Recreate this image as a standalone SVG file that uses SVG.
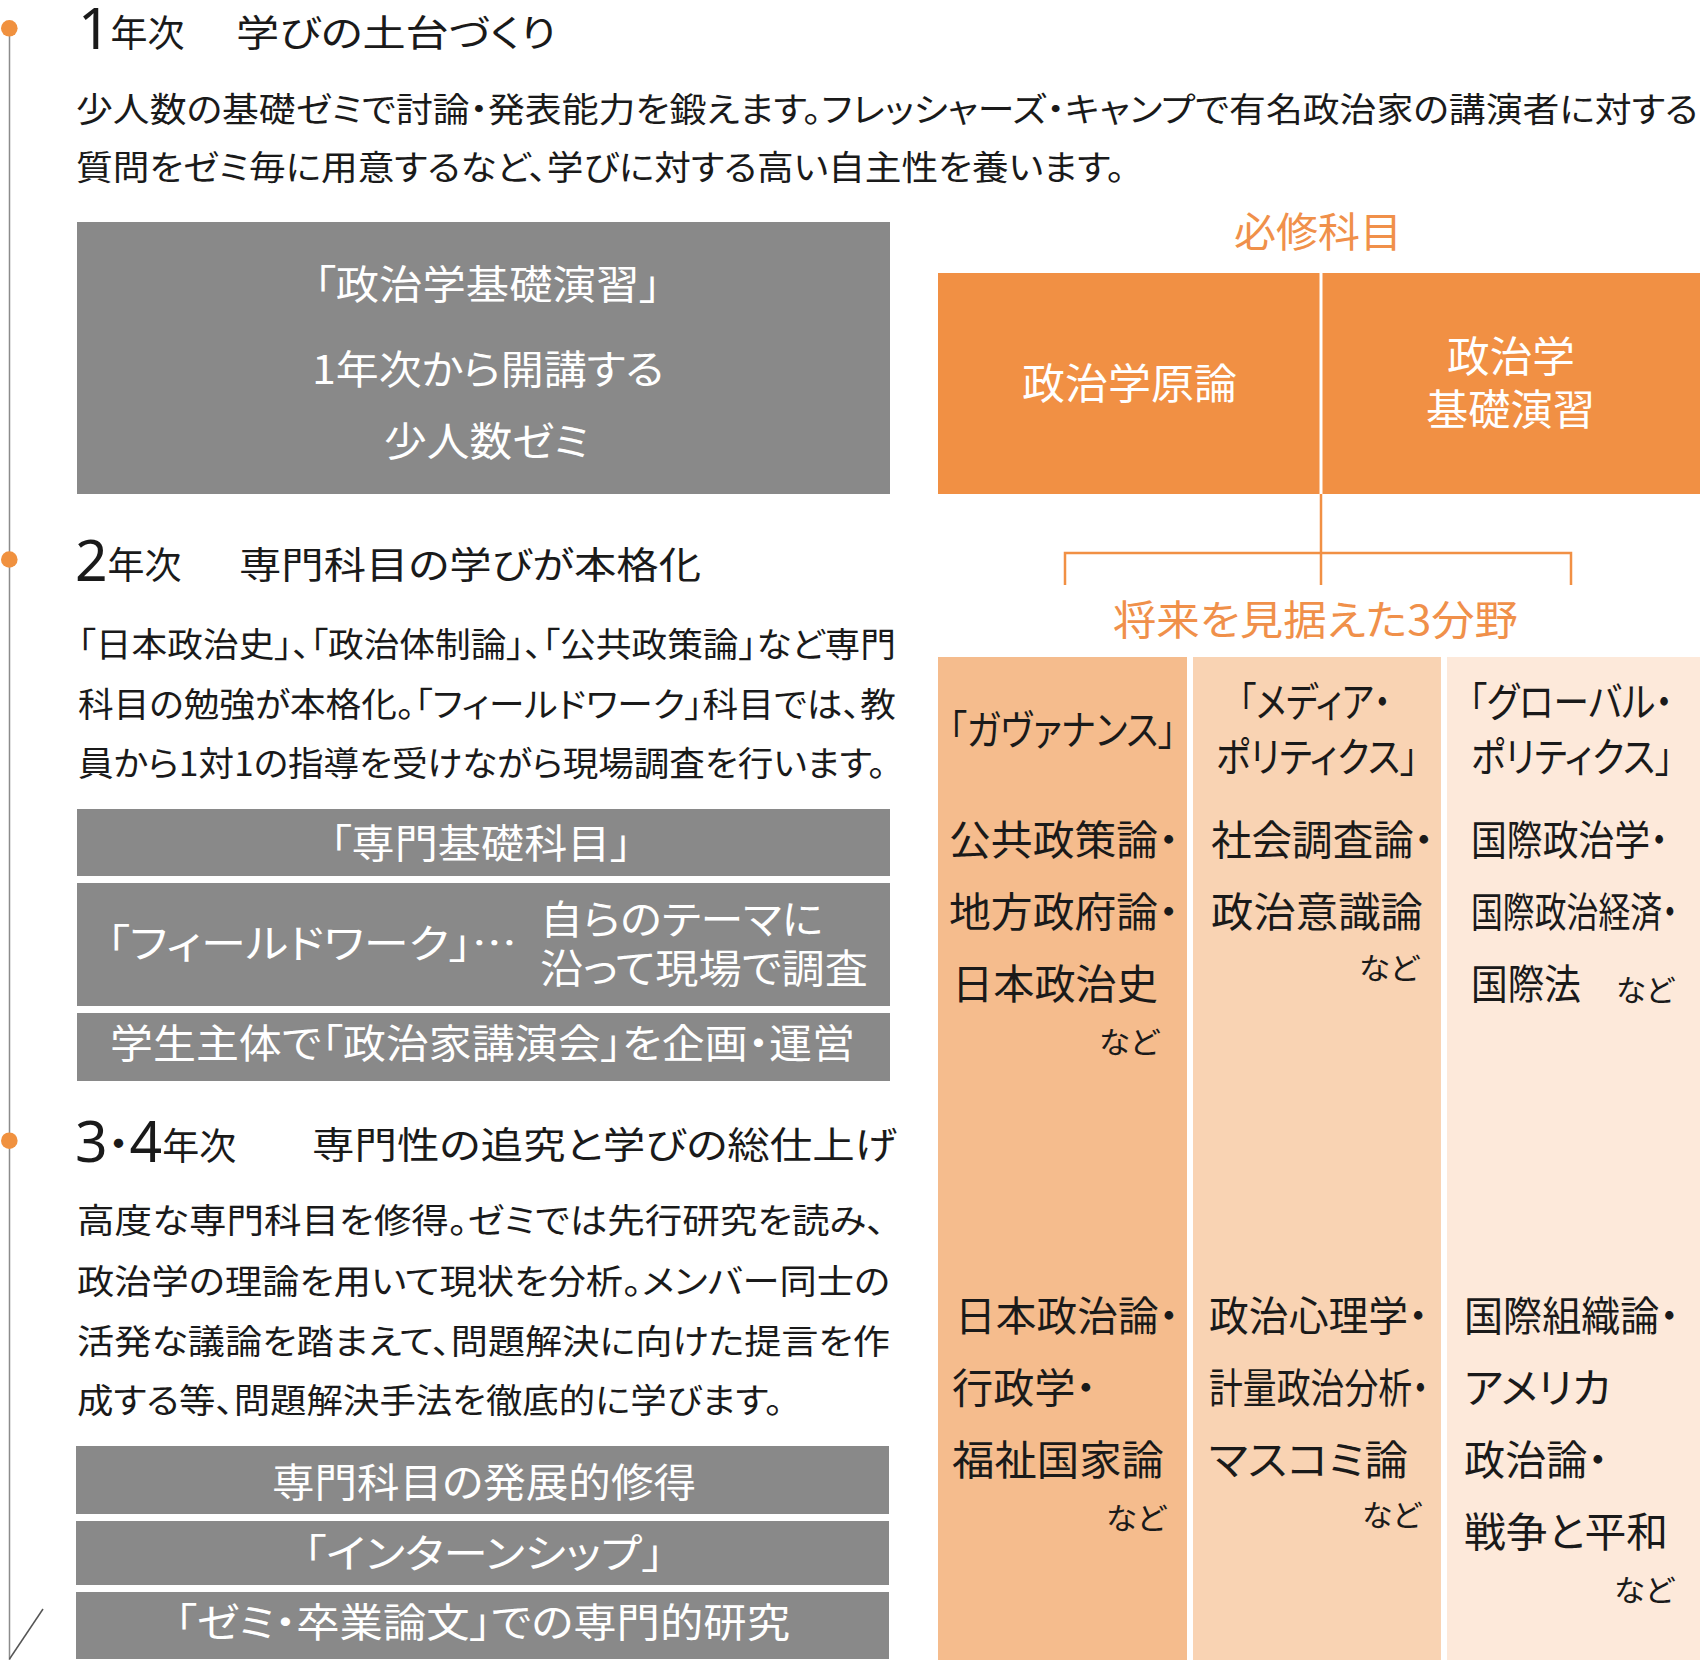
<svg xmlns="http://www.w3.org/2000/svg" width="1700" height="1663" viewBox="0 0 1700 1663">
<style>
text{font-family:"Noto Sans CJK JP","Noto Sans",sans-serif;font-feature-settings:"palt" 1;}
.t{fill:#1a1a1a;}
.w{fill:#ffffff;}
.o{fill:#f0904a;}
.h{font-size:37px;}
.num{font-family:"Noto Sans","Noto Sans CJK JP",sans-serif;font-weight:400;font-size:57px;}
.p{font-size:34px;}
.b{font-size:40px;}
.c{font-size:41px;}
.n{font-size:30px;}
.gray{fill:#898989;}
.conn{fill:none;stroke:#f19044;stroke-width:2.5;}
</style>
<rect x="0" y="0" width="1700" height="1663" fill="#ffffff"/>

<g id="timeline">
<line x1="9.5" y1="28" x2="9.5" y2="1660" stroke="#8c8c8c" stroke-width="1.5"/>
<line x1="9.5" y1="1659" x2="43" y2="1609" stroke="#555555" stroke-width="1.5"/>
<circle cx="9.3" cy="28.3" r="8.3" fill="#f0913f"/>
<circle cx="9.3" cy="559.5" r="8.3" fill="#f0913f"/>
<circle cx="9.3" cy="1140.7" r="8.3" fill="#f0913f"/>
</g>

<g id="year1">
<text class="t" x="78" y="49"><tspan class="num">1</tspan><tspan class="h" y="47">年次</tspan></text>
<text class="t h" x="236" y="47" textLength="320" lengthAdjust="spacingAndGlyphs">学びの土台づくり</text>
<text class="t p" x="76" y="122" textLength="1622" lengthAdjust="spacingAndGlyphs">少人数の基礎ゼミで討論・発表能力を鍛えます。フレッシャーズ・キャンプで有名政治家の講演者に対する</text>
<text class="t p" x="76" y="180" textLength="1049" lengthAdjust="spacingAndGlyphs">質問をゼミ毎に用意するなど、学びに対する高い自主性を養います。</text>
</g>

<g id="box-y1">
<rect class="gray" x="77" y="222" width="813" height="272"/>
<text class="w b" x="314" y="299" textLength="347" lengthAdjust="spacingAndGlyphs">「政治学基礎演習」</text>
<text class="w b" x="312" y="384" textLength="352" lengthAdjust="spacingAndGlyphs">1年次から開講する</text>
<text class="w b" x="384" y="456" textLength="205" lengthAdjust="spacingAndGlyphs">少人数ゼミ</text>
</g>

<g id="year2">
<text class="t" x="75" y="581"><tspan class="num">2</tspan><tspan class="h" y="579">年次</tspan></text>
<text class="t h" x="239" y="579" textLength="462" lengthAdjust="spacingAndGlyphs">専門科目の学びが本格化</text>
<text class="t p" x="78" y="657" textLength="818" lengthAdjust="spacingAndGlyphs">「日本政治史」、「政治体制論」、「公共政策論」など専門</text>
<text class="t p" x="78" y="717" textLength="818" lengthAdjust="spacingAndGlyphs">科目の勉強が本格化。「フィールドワーク」科目では、教</text>
<text class="t p" x="78" y="776" textLength="808" lengthAdjust="spacingAndGlyphs">員から1対1の指導を受けながら現場調査を行います。</text>
</g>

<g id="box-y2">
<rect class="gray" x="77" y="809" width="813" height="67"/>
<rect class="gray" x="77" y="883" width="813" height="123"/>
<rect class="gray" x="77" y="1013" width="813" height="68"/>
<text class="w b" x="330" y="858" textLength="302" lengthAdjust="spacingAndGlyphs">「専門基礎科目」</text>
<text class="w b" x="107" y="958" textLength="410" lengthAdjust="spacingAndGlyphs">「フィールドワーク」…</text>
<text class="w b" x="540" y="934" textLength="283" lengthAdjust="spacingAndGlyphs">自らのテーマに</text>
<text class="w b" x="540" y="983" textLength="328" lengthAdjust="spacingAndGlyphs">沿って現場で調査</text>
<text class="w b" x="110" y="1058" textLength="745" lengthAdjust="spacingAndGlyphs">学生主体で「政治家講演会」を企画・運営</text>
</g>

<g id="year34">
<text class="t" x="75" y="1162"><tspan class="num">3</tspan><tspan font-size="44" dy="-2">・</tspan><tspan class="num" dy="2">4</tspan><tspan class="h" dy="-2">年次</tspan></text>
<text class="t h" x="312" y="1159" textLength="585" lengthAdjust="spacingAndGlyphs">専門性の追究と学びの総仕上げ</text>
<text class="t p" x="77" y="1233" textLength="808" lengthAdjust="spacingAndGlyphs">高度な専門科目を修得。ゼミでは先行研究を読み、</text>
<text class="t p" x="77" y="1294" textLength="813" lengthAdjust="spacingAndGlyphs">政治学の理論を用いて現状を分析。メンバー同士の</text>
<text class="t p" x="77" y="1354" textLength="813" lengthAdjust="spacingAndGlyphs">活発な議論を踏まえて、問題解決に向けた提言を作</text>
<text class="t p" x="77" y="1413" textLength="706" lengthAdjust="spacingAndGlyphs">成する等、問題解決手法を徹底的に学びます。</text>
</g>

<g id="box-y34">
<rect class="gray" x="76" y="1446" width="813" height="68"/>
<rect class="gray" x="76" y="1521" width="813" height="64"/>
<rect class="gray" x="76" y="1592" width="813" height="67"/>
<text class="w b" x="272" y="1497" textLength="424" lengthAdjust="spacingAndGlyphs">専門科目の発展的修得</text>
<text class="w b" x="304" y="1568" textLength="360" lengthAdjust="spacingAndGlyphs">「インターンシップ」</text>
<text class="w b" x="175" y="1637" textLength="615" lengthAdjust="spacingAndGlyphs">「ゼミ・卒業論文」での専門的研究</text>
</g>

<g id="required">
<text class="o c" x="1234" y="247" textLength="168" lengthAdjust="spacingAndGlyphs">必修科目</text>
<rect x="938" y="273" width="762" height="221" fill="#f19044"/>
<line x1="1321" y1="273" x2="1321" y2="494" stroke="#ffffff" stroke-width="3"/>
<text class="w" font-size="42" x="1022" y="399" textLength="215" lengthAdjust="spacingAndGlyphs">政治学原論</text>
<text class="w" font-size="42" x="1447" y="372" textLength="128" lengthAdjust="spacingAndGlyphs">政治学</text>
<text class="w" font-size="42" x="1426" y="425" textLength="169" lengthAdjust="spacingAndGlyphs">基礎演習</text>
</g>

<g id="connectors">
<path class="conn" d="M1321 494 V585 M1065 585 V553 H1571 V585"/>
</g>

<g id="fields-title">
<text class="o c" x="1113" y="635" textLength="405" lengthAdjust="spacingAndGlyphs">将来を見据えた3分野</text>
</g>

<g id="col-governance">
<rect x="938" y="657" width="249" height="1003" fill="#f5bc8d"/>
<text class="t c" x="949" y="745" textLength="227" lengthAdjust="spacingAndGlyphs">「ガヴァナンス」</text>
<text class="t c" x="949" y="855" textLength="230" lengthAdjust="spacingAndGlyphs">公共政策論・</text>
<text class="t c" x="949" y="927" textLength="230" lengthAdjust="spacingAndGlyphs">地方政府論・</text>
<text class="t c" x="952" y="999" textLength="206" lengthAdjust="spacingAndGlyphs">日本政治史</text>
<text class="t n" x="1099" y="1053" textLength="60" lengthAdjust="spacingAndGlyphs">など</text>
<text class="t c" x="955" y="1331" textLength="224" lengthAdjust="spacingAndGlyphs">日本政治論・</text>
<text class="t c" x="952" y="1403" textLength="144" lengthAdjust="spacingAndGlyphs">行政学・</text>
<text class="t c" x="952" y="1475" textLength="212" lengthAdjust="spacingAndGlyphs">福祉国家論</text>
<text class="t n" x="1106" y="1529" textLength="60" lengthAdjust="spacingAndGlyphs">など</text>
</g>

<g id="col-media">
<rect x="1193" y="657" width="248" height="1003" fill="#f9d3b3"/>
<text class="t c" x="1239" y="717" textLength="152" lengthAdjust="spacingAndGlyphs">「メディア・</text>
<text class="t c" x="1216" y="772" textLength="202" lengthAdjust="spacingAndGlyphs">ポリティクス」</text>
<text class="t c" x="1211" y="855" textLength="223" lengthAdjust="spacingAndGlyphs">社会調査論・</text>
<text class="t c" x="1211" y="927" textLength="212" lengthAdjust="spacingAndGlyphs">政治意識論</text>
<text class="t n" x="1359" y="979" textLength="60" lengthAdjust="spacingAndGlyphs">など</text>
<text class="t c" x="1209" y="1331" textLength="219" lengthAdjust="spacingAndGlyphs">政治心理学・</text>
<text class="t c" x="1209" y="1403" textLength="220" lengthAdjust="spacingAndGlyphs">計量政治分析・</text>
<text class="t c" x="1209" y="1475" textLength="199" lengthAdjust="spacingAndGlyphs">マスコミ論</text>
<text class="t n" x="1362" y="1526" textLength="59" lengthAdjust="spacingAndGlyphs">など</text>
</g>

<g id="col-global">
<rect x="1447" y="657" width="253" height="1003" fill="#fde9da"/>
<text class="t c" x="1469" y="717" textLength="204" lengthAdjust="spacingAndGlyphs">「グローバル・</text>
<text class="t c" x="1471" y="772" textLength="202" lengthAdjust="spacingAndGlyphs">ポリティクス」</text>
<text class="t c" x="1471" y="855" textLength="197" lengthAdjust="spacingAndGlyphs">国際政治学・</text>
<text class="t c" x="1471" y="927" textLength="207" lengthAdjust="spacingAndGlyphs">国際政治経済・</text>
<text class="t c" x="1471" y="999" textLength="110" lengthAdjust="spacingAndGlyphs">国際法</text>
<text class="t n" x="1616" y="1001" textLength="58" lengthAdjust="spacingAndGlyphs">など</text>
<text class="t c" x="1464" y="1331" textLength="215" lengthAdjust="spacingAndGlyphs">国際組織論・</text>
<text class="t c" x="1464" y="1403" textLength="147" lengthAdjust="spacingAndGlyphs">アメリカ</text>
<text class="t c" x="1464" y="1475" textLength="144" lengthAdjust="spacingAndGlyphs">政治論・</text>
<text class="t c" x="1464" y="1547" textLength="204" lengthAdjust="spacingAndGlyphs">戦争と平和</text>
<text class="t n" x="1614" y="1601" textLength="60" lengthAdjust="spacingAndGlyphs">など</text>
</g>
</svg>
